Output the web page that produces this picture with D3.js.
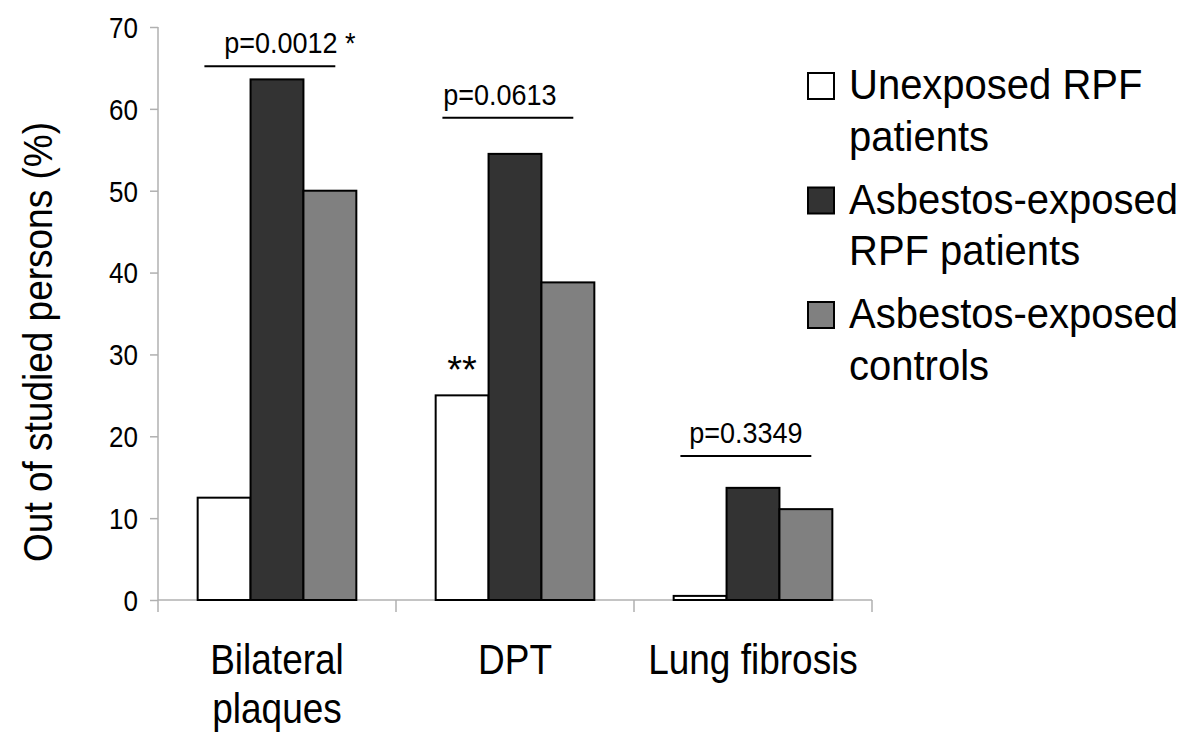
<!DOCTYPE html>
<html>
<head>
<meta charset="utf-8">
<script src="https://cdn.jsdelivr.net/npm/d3@7"></script>
<style>
  body { margin: 0; background: #fff; }
  text { font-family: "Liberation Sans", Arial, sans-serif; fill: #000; }
</style>
</head>
<body>
<div id="chart"></div>
<script>
// values
var categories = ["Bilateral plaques", "DPT", "Lung fibrosis"];
var groups = ["Unexposed RPF patients", "Asbestos-exposed RPF patients", "Asbestos-exposed controls"];
var unexposed = [12.5, 25.0, 0.5];
var exposedRpf = [63.6, 54.5, 13.7];
var exposedControls = [50.0, 38.8, 11.1];
var yTicks = [0, 10, 20, 30, 40, 50, 60, 70];
var pLabels = ["p=0.0012 *", "p=0.0613", "p=0.3349"];
var pLineAt = [65.2, 58.9, 17.6];

var catLines = [["Bilateral", "plaques"], ["DPT"], ["Lung fibrosis"]];
var legendLines = [["Unexposed RPF", "patients"], ["Asbestos-exposed", "RPF patients"], ["Asbestos-exposed", "controls"]];
var fills = ["#ffffff", "#333333", "#808080"];

var W = 1200, H = 752;
var plotL = 158, plotR = 872, plotT = 27, plotB = 600;

var svg = d3.select("#chart").append("svg")
  .attr("width", W)
  .attr("height", H);

// text in the source figure is a bit taller than Arial at the same width
function addText(parent, x, y, lines, size, gap, anchor, sy) {
  var t = parent.append("text")
    .attr("transform", "translate(" + x + "," + y + ") scale(1," + sy + ")")
    .attr("text-anchor", anchor)
    .style("font-size", size + "px");
  lines.forEach(function(s, k) {
    t.append("tspan").attr("x", 0).attr("dy", k === 0 ? 0 : gap / sy).text(s);
  });
  return t;
}

var x0 = d3.scaleBand().domain(categories).range([plotL, plotR]);
var x1 = d3.scaleBand().domain(groups).range([0, x0.bandwidth()]).paddingOuter(0.75);
var y = d3.scaleLinear().domain([0, 70]).range([plotB, plotT]);

var series = [unexposed, exposedRpf, exposedControls];
var rows = [];
categories.forEach(function(c, i) {
  groups.forEach(function(g, j) {
    rows.push({cat: c, group: g, value: series[j][i], j: j});
  });
});

// y axis
var yAxis = svg.append("g")
  .attr("transform", "translate(" + plotL + ",0)")
  .call(d3.axisLeft(y).tickValues(yTicks).tickSize(8).tickPadding(12));
yAxis.select(".domain").attr("stroke", "#b0b0b0").attr("stroke-width", 1.5)
  .attr("d", "M0," + plotT + "V" + plotB);
yAxis.selectAll(".tick line").attr("stroke", "#b0b0b0").attr("stroke-width", 1.5);
yAxis.selectAll(".tick text")
  .style("font-size", "26px")
  .style("font-family", "'Liberation Sans', Arial, sans-serif")
  .attr("fill", "#000")
  .attr("dy", "0.36em")
  .attr("transform", "scale(1,1.1)");

// x axis: line plus ticks on category boundaries
var xg = svg.append("g");
xg.append("line")
  .attr("x1", plotL).attr("x2", plotR)
  .attr("y1", plotB).attr("y2", plotB)
  .attr("stroke", "#b0b0b0").attr("stroke-width", 1.5);
var bounds = categories.map(function(c) { return x0(c); }).concat([x0(categories[categories.length - 1]) + x0.bandwidth()]);
xg.selectAll("line.tk").data(bounds).enter().append("line")
  .attr("class", "tk")
  .attr("x1", function(d) { return d; }).attr("x2", function(d) { return d; })
  .attr("y1", plotB).attr("y2", plotB + 12)
  .attr("stroke", "#b0b0b0").attr("stroke-width", 1.5);

// bars
svg.append("g").selectAll("rect").data(rows).enter().append("rect")
  .attr("x", function(d) { return x0(d.cat) + x1(d.group); })
  .attr("y", function(d) { return y(d.value); })
  .attr("width", x1.bandwidth())
  .attr("height", function(d) { return y(0) - y(d.value); })
  .attr("fill", function(d) { return fills[d.j]; })
  .attr("stroke", "#000")
  .attr("stroke-width", 2);

// category labels
categories.forEach(function(c, i) {
  addText(svg, x0(c) + x0.bandwidth() / 2, 674, catLines[i], 37, 49, "middle", 1.15);
});

// y label
svg.append("text")
  .attr("transform", "translate(52," + 342 + ") rotate(-90) scale(1,1.12)")
  .attr("text-anchor", "middle")
  .style("font-size", "37px")
  .text("Out of studied persons (%)");

// p-value brackets
categories.forEach(function(c, i) {
  var bx = x0(c), bw = x0.bandwidth();
  var xa = bx + bw * 0.195, xb = bx + bw * 0.745;
  var ly = y(pLineAt[i]);
  svg.append("line")
    .attr("x1", xa).attr("x2", xb)
    .attr("y1", ly).attr("y2", ly)
    .attr("stroke", "#000").attr("stroke-width", 2);
  addText(svg, (xa + xb) / 2 + (i === 0 ? 20 : -8 * (i === 1)), ly - 13, [pLabels[i]], 27, 0, "middle", 1.07);
});

// ** over DPT unexposed bar
svg.append("text")
  .attr("x", x0("DPT") + x1(groups[0]) + x1.bandwidth() / 2)
  .attr("y", y(unexposed[1]) - 12)
  .attr("text-anchor", "middle")
  .style("font-size", "38px")
  .text("**");

// legend
var leg = svg.append("g").attr("transform", "translate(808,0)");
legendLines.forEach(function(lines, i) {
  var base = 99 + i * 114.5;
  leg.append("rect")
    .attr("x", 0).attr("y", base - 26)
    .attr("width", 26).attr("height", 26)
    .attr("fill", fills[i])
    .attr("stroke", "#000").attr("stroke-width", 2);
  addText(leg, 41, base, lines, 40, 52, "start", 1.08);
});
</script>
</body>
</html>
